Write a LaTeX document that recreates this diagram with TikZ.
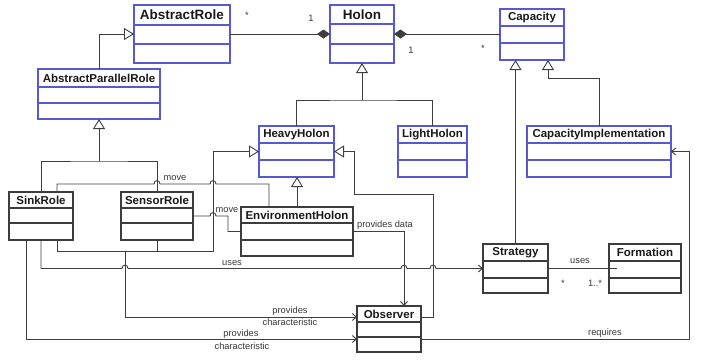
\documentclass[tikz,border=0pt]{standalone}
\usepackage{fontspec}
\setmainfont{Liberation Sans}
\usetikzlibrary{arrows.meta,calc}

\definecolor{classblue}{RGB}{88,88,212}
\definecolor{classgray}{RGB}{60,60,60}
\definecolor{wirecol}{RGB}{62,62,62}
\definecolor{labelcol}{RGB}{55,55,55}

\tikzset{
  bluebox/.style={draw=classblue, line width=1.1pt},
  graybox/.style={draw=classgray, line width=1.1pt},
  classname/.style={font=\fontsize{11.5}{13}\selectfont\bfseries, text=black!90, inner sep=0pt},
  lbl/.style={font=\fontsize{9.3}{10}\selectfont, text=labelcol, inner sep=0pt},
  wire/.style={draw=wirecol, line width=0.9pt},
  gen/.style={-{Triangle[open, length=10pt, width=12pt, line width=0.9pt]}},
  comp/.style={-{Diamond[length=13pt, width=9pt]}},
  openarrow/.style={-{Straight Barb[length=4pt, width=7pt, line width=0.9pt]}},
  hopat/.style 2 args={insert path={-- (#1-3,#2) .. controls (#1-3,#2-4.5) and (#1+3,#2-4.5) .. (#1+3,#2)}}
}

% class box: name, style, x, y, width, height, first divider, second divider, title
\newcommand\umlclass[9]{%
  \node[#2, anchor=north west, inner sep=0pt, outer sep=0pt,
        minimum width=#5pt, minimum height=#6pt] (#1) at (#3,#4) {};
  \draw[#2] ([yshift=-#7pt]#1.north west) -- ([yshift=-#7pt]#1.north east);
  \draw[#2] ([yshift=-#8pt]#1.north west) -- ([yshift=-#8pt]#1.north east);
  \node[classname] (#1-title) at ([yshift=-#7*0.5pt]#1.north) {#9};
}
\newcommand\bigname{\fontsize{13.5}{15}\selectfont}

\begin{document}
\begin{tikzpicture}[x=1pt, y=-1pt]
\useasboundingbox (0,0) rectangle (702,360);

% classes
\umlclass{AbstractRole}{bluebox}{134}{5}{96}{58}{20}{39}{\bigname AbstractRole}
\umlclass{APR}{bluebox}{38}{69}{122}{50}{18}{34}{AbstractParallelRole}
\umlclass{Holon}{bluebox}{330}{5}{64}{58}{19}{39}{\bigname Holon}
\umlclass{Capacity}{bluebox}{500}{9}{64}{51}{17}{34}{Capacity}
\umlclass{HeavyHolon}{bluebox}{259}{126}{75}{51}{17}{34}{HeavyHolon}
\umlclass{LightHolon}{bluebox}{398}{126}{69}{51}{17}{34}{LightHolon}
\umlclass{CapImpl}{bluebox}{527}{126}{144}{51}{17}{34}{CapacityImplementation}
\umlclass{SinkRole}{graybox}{9}{192}{64}{48}{16}{31}{SinkRole}
\umlclass{SensorRole}{graybox}{121}{192}{72}{48}{16}{31}{SensorRole}
\umlclass{EnvHolon}{graybox}{241}{207}{112}{49}{16}{33}{EnvironmentHolon}
\umlclass{Strategy}{graybox}{483}{244}{65}{49}{17}{34}{Strategy}
\umlclass{Formation}{graybox}{609}{244}{72}{49}{17}{34}{Formation}
\umlclass{Observer}{graybox}{357}{306}{64}{46}{16}{31}{Observer}

% junction points
\coordinate (hj) at (362,100);
\coordinate (ag) at (99,161);
\coordinate (pc) at (125,251);

% compositions
\draw[wire, comp] (AbstractRole.east) -- (Holon.west);
\draw[wire, comp] (Capacity.west |- Holon.east) -- (Holon.east);

% generalizations
\draw[wire, gen] (APR.north) |- (AbstractRole.west);
\draw[wire, gen] (ag) -- (APR.south);
\draw[wire] (SinkRole.north) |- (ag) -| (SensorRole.north);
\draw[wire, gen] (hj) -- (Holon.south);
\draw[wire] (HeavyHolon.north) |- (hj) -| (LightHolon.north);
\draw[wire, gen] (Strategy.north) -- (Strategy.north |- Capacity.south);
\draw[wire, gen] (CapImpl.north) |- ([xshift=16pt, yshift=-18pt]Capacity.south) -- ([xshift=16pt]Capacity.south);
\draw[wire, gen] (EnvHolon.north) -- (EnvHolon.north |- HeavyHolon.south);
\draw[wire, gen] ([xshift=-16pt]SinkRole.south east) -- (57,251) -- (213,251) -- (213,151.5) -- (HeavyHolon.west);
\draw[wire] (SensorRole.south) -- (157,251);
\draw[wire, gen] ([yshift=-11pt]Observer.north east) -- (433,317) -- (433,194) -- (354,194) -- (354,151.5) -- (HeavyHolon.east);

% move
\draw[wire] ([xshift=-16pt]SinkRole.north east) -- (57,184) [hopat={157}{184}] [hopat={213}{184}] -- (269,184) -- ([xshift=28pt]EnvHolon.north west);
\draw[wire] (SensorRole.east) [hopat={213}{216}] -- (228,216) -- (228,231.5) -- (EnvHolon.west);

% provides data
\draw[wire, openarrow] (EnvHolon.east) -- (404,231.5) -- ([xshift=-17pt]Observer.north east);

% uses
\draw[wire, openarrow] (SinkRole.south) -- (41,268.5) [hopat={125}{268.5}] [hopat={404}{268.5}] [hopat={433}{268.5}] -- (Strategy.west);

% provides characteristic
\draw[wire, openarrow] (pc) -- (125,317) -- ([yshift=-11pt]Observer.north west);
\draw[wire, openarrow] ([xshift=17pt]SinkRole.south west) -- (26,339) -- ([yshift=-33pt]Observer.north west);

% requires
\draw[wire, openarrow] ([yshift=-33pt]Observer.north east) -- (689,339) -- (689,151.5) -- (CapImpl.east);

% Strategy uses Formation
\draw[wire, shorten >=-8pt] (Strategy.east) -- (Formation.west);

% labels
\node[lbl] (m1) at (247,15) {*};
\node[lbl] (m2) at (311,18) {1};
\node[lbl] (m3) at (411,50) {1};
\node[lbl] (m4) at (483,48) {*};
\node[lbl] (l-move1) at (175,178) {move};
\node[lbl] (l-move2) at (227,210) {move};
\node[lbl] (l-data) at (385,225) {provides data};
\node[lbl] (l-uses1) at (232,263) {uses};
\node[lbl] (l-pc1a) at (290,311) {provides};
\node[lbl] (l-pc1b) at (290,322) {characteristic};
\node[lbl] (l-pc2a) at (241,334) {provides};
\node[lbl] (l-pc2b) at (242,346) {characteristic};
\node[lbl] (l-req) at (605,333) {requires};
\node[lbl] (l-uses2) at (580,261) {uses};
\node[lbl] (m5) at (563,283) {*};
\node[lbl] (m6) at (595,283) {1..*};
\end{tikzpicture}
\end{document}
